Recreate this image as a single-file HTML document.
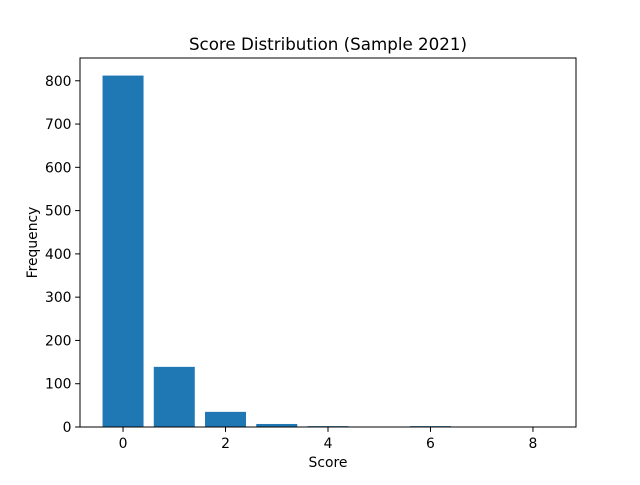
<!DOCTYPE html>
<html><head><meta charset="utf-8"><style>
body{margin:0;background:#fff;}
svg text{font-family:"DejaVu Sans","Liberation Sans",sans-serif;}
</style></head><body>
<svg id="chart" width="640" height="480" xmlns="http://www.w3.org/2000/svg">
<rect width="640" height="480" fill="#fff"/>
<g id="bars"></g>
<g id="ticks"></g>
<rect x="80" y="58" width="496" height="369" fill="none" stroke="#000" stroke-width="1"/>
<text x="328" y="50" text-anchor="middle" font-size="16.7">Score Distribution (Sample 2021)</text>
<text x="328" y="467" text-anchor="middle" font-size="13.9">Score</text>
<text x="37" y="242.5" text-anchor="middle" font-size="13.9" transform="rotate(-90 37 242.5)">Frequency</text>
</svg>
<script>
const categories=[0,1,2,3,4,5,6,7,8];
const frequencies=[812,139,35,7,2,0,2,0,0];
const xTicks=[0,2,4,6,8];
const yTicks=[0,100,200,300,400,500,600,700,800];
const L=80,R=576,T=58,B=427;
const xmin=-0.84,xmax=8.84,ymax=852.6;
const xs=v=>L+(v-xmin)/(xmax-xmin)*(R-L);
const ys=v=>B-v/ymax*(B-T);
const NS="http://www.w3.org/2000/svg";
const bars=document.getElementById('bars'),ticks=document.getElementById('ticks');
categories.forEach((c,i)=>{
 const r=document.createElementNS(NS,'rect');
 const x0=xs(c-0.4),x1=xs(c+0.4);
 r.setAttribute('x',x0);r.setAttribute('width',x1-x0);
 r.setAttribute('y',ys(frequencies[i]));r.setAttribute('height',B-ys(frequencies[i]));
 r.setAttribute('fill','#1f77b4');
 
 
 bars.appendChild(r);
});
xTicks.forEach(t=>{
 const x=xs(t);
 const l=document.createElementNS(NS,'line');
 l.setAttribute('x1',x);l.setAttribute('x2',x);l.setAttribute('y1',B);l.setAttribute('y2',B+4.9);l.setAttribute('stroke','#000');
 
 
 ticks.appendChild(l);
 const tx=document.createElementNS(NS,'text');
 tx.setAttribute('x',x);tx.setAttribute('y',B+21);tx.setAttribute('text-anchor','middle');tx.setAttribute('font-size','13.9');
 tx.textContent=t;
 
 
 ticks.appendChild(tx);
});
yTicks.forEach(t=>{
 const y=ys(t);
 const l=document.createElementNS(NS,'line');
 l.setAttribute('x1',L-4.9);l.setAttribute('x2',L);l.setAttribute('y1',y);l.setAttribute('y2',y);l.setAttribute('stroke','#000');
 
 
 ticks.appendChild(l);
 const tx=document.createElementNS(NS,'text');
 tx.setAttribute('x',L-8.5);tx.setAttribute('y',y+5);tx.setAttribute('text-anchor','end');tx.setAttribute('font-size','13.9');
 tx.textContent=t;
 
 
 ticks.appendChild(tx);
});
</script>
</body></html>
